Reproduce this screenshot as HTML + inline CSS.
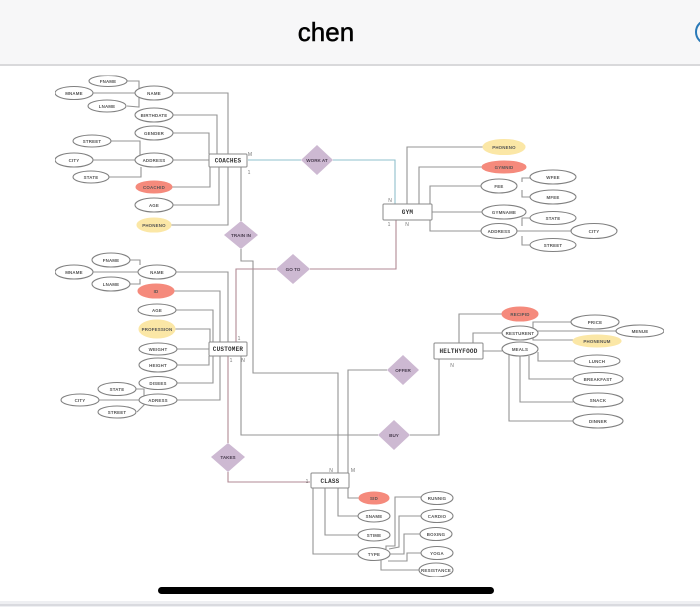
<!DOCTYPE html>
<html>
<head>
<meta charset="utf-8">
<style>
html,body{margin:0;padding:0;background:#fff;width:700px;height:607px;overflow:hidden}
svg{display:block}
.l polyline{fill:none;stroke:#949494;stroke-width:1.1}
.b polyline{fill:none;stroke:#8fc0cc;stroke-width:1.1}
.r polyline{fill:none;stroke:#b08a94;stroke-width:1.1}
.e ellipse{fill:#fff;stroke:#808080;stroke-width:1.1}
.e ellipse.red{fill:#f58a7c;stroke:#f58a7c}
.e ellipse.yel{fill:#fbe7a6;stroke:#fbe7a6}
.t text{font-family:"Liberation Sans",sans-serif;font-weight:bold;font-size:4.4px;fill:#555;text-anchor:middle;letter-spacing:.2px}
.box rect{fill:#fff;stroke:#8a8a8a;stroke-width:1}
.n text{font-family:"Liberation Mono",monospace;font-weight:bold;font-size:6px;fill:#333;text-anchor:middle;letter-spacing:.2px}
.d polygon{fill:#cdb9d2}
.d text{font-family:"Liberation Sans",sans-serif;font-weight:bold;font-size:4.6px;fill:#4a3d50;text-anchor:middle}
.c text{font-family:"Liberation Sans",sans-serif;font-size:5px;fill:#777;text-anchor:middle}
</style>
</head>
<body>
<svg width="700" height="607" viewBox="0 0 700 607" xmlns="http://www.w3.org/2000/svg">
<defs><filter id="s" x="0" y="0" width="100%" height="100%"><feGaussianBlur stdDeviation="0.35"/></filter></defs>
<rect x="0" y="0" width="700" height="64" fill="#f7f7f8"/>
<rect x="0" y="64" width="700" height="2" fill="#d9d9db"/>
<text x="326" y="41" font-family="'Liberation Sans',sans-serif" font-size="26" fill="#000" stroke="#000" stroke-width=".5" text-anchor="middle">chen</text>
<circle cx="708" cy="32" r="12" fill="none" stroke="#2a7ab8" stroke-width="2"/>

<g filter="url(#s)">
<g class="l">
<polyline points="173,93 228,93 228,154"/>
<polyline points="173,115 217,115 217,154"/>
<polyline points="173,133 209,133 209,154"/>
<polyline points="173,160 209,160"/>
<polyline points="172,187 210,187 210,167"/>
<polyline points="173,205 219,205 219,167"/>
<polyline points="171,225 228,225 228,167"/>
<polyline points="241,167 241,221"/>
<polyline points="127,81 139,81 139,107 127,106"/>
<polyline points="93,93 135,93"/>
<polyline points="111,141 140,141 140,155"/>
<polyline points="93,160 135,160"/>
<polyline points="109,177 141,177 141,167"/>
<polyline points="241,249 241,261 253,261 253,373 338,373 338,473"/>
<polyline points="407,204 407,147 483,147"/>
<polyline points="419,204 419,167 482,167"/>
<polyline points="430,204 430,186 481,186"/>
<polyline points="432,212 482,212"/>
<polyline points="430,220 430,231 483,231"/>
<polyline points="522,182 522,178 530,178"/>
<polyline points="522,190 522,197 530,197"/>
<polyline points="522,226 522,218 530,218"/>
<polyline points="517,231 571,231"/>
<polyline points="522,236 522,245 530,245"/>
<polyline points="176,272 228,272 228,342"/>
<polyline points="174,291 220,291 220,342"/>
<polyline points="176,310 213,310 213,342"/>
<polyline points="175,329 210,329 210,342"/>
<polyline points="177,349 209,349"/>
<polyline points="177,365 209,365 209,356"/>
<polyline points="177,383 213,383 213,356"/>
<polyline points="177,400 220,400 220,356"/>
<polyline points="130,260 140,260 140,265"/>
<polyline points="130,284 140,284 140,279"/>
<polyline points="93,272 138,272"/>
<polyline points="136,389 144,389 144,405 137,412"/>
<polyline points="99,400 139,400"/>
<polyline points="241,356 241,435 378,435"/>
<polyline points="410,435 439,435 439,359"/>
<polyline points="387,370 348,370 348,473"/>
<polyline points="459,343 459,314 502,314"/>
<polyline points="473,343 473,333 502,333"/>
<polyline points="483,351 502,351"/>
<polyline points="533,328 533,322 571,322"/>
<polyline points="538,331 616,331"/>
<polyline points="533,338 533,340 573,340"/>
<polyline points="538,352 538,361 574,361"/>
<polyline points="529,356 529,379 573,379"/>
<polyline points="520,356 520,402 573,402"/>
<polyline points="509,355 509,421 573,421"/>
<polyline points="348,488 348,498 359,498"/>
<polyline points="338,488 338,516 358,516"/>
<polyline points="325,488 325,535 358,535"/>
<polyline points="313,488 313,554 358,554"/>
<polyline points="386,549 386,546 395,546 395,497 421,497"/>
<polyline points="389,549 399,547 399,516 421,516"/>
<polyline points="390,554 404,554 404,534 420,534"/>
<polyline points="388,561 407,561 407,553 421,553"/>
<polyline points="381,560 381,570 419,570"/>
</g>
<g class="b">
<polyline points="248,160 301,160"/>
<polyline points="333,160 395,160 395,204"/>
</g>
<g class="r">
<polyline points="276,269 236,269 236,342"/>
<polyline points="310,269 396,269 396,220"/>
<polyline points="228,356 228,443"/>
<polyline points="228,472 228,482 310,482"/>
</g>

<g class="e">
<ellipse cx="108" cy="81" rx="19" ry="5.5"/>
<ellipse cx="74" cy="93" rx="19" ry="6.5"/>
<ellipse cx="107" cy="106" rx="19" ry="6"/>
<ellipse cx="154" cy="93" rx="19" ry="7"/>
<ellipse cx="154" cy="115" rx="19" ry="7"/>
<ellipse cx="154" cy="133" rx="19" ry="7"/>
<ellipse cx="92" cy="141" rx="19" ry="6"/>
<ellipse cx="74" cy="160" rx="19" ry="7"/>
<ellipse cx="154" cy="160" rx="19" ry="7"/>
<ellipse cx="91" cy="177" rx="18" ry="6"/>
<ellipse class="red" cx="154" cy="187" rx="18" ry="6"/>
<ellipse cx="154" cy="205" rx="19" ry="7"/>
<ellipse class="yel" cx="154" cy="225" rx="17" ry="7"/>

<ellipse class="yel" cx="504" cy="147" rx="21" ry="7.5"/>
<ellipse class="red" cx="504" cy="167" rx="22" ry="6"/>
<ellipse cx="499" cy="186" rx="18" ry="7"/>
<ellipse cx="504" cy="212" rx="22" ry="7"/>
<ellipse cx="499" cy="231" rx="18" ry="7.5"/>
<ellipse cx="553" cy="177" rx="23" ry="7"/>
<ellipse cx="553" cy="197" rx="23" ry="7"/>
<ellipse cx="553" cy="218" rx="23" ry="6.5"/>
<ellipse cx="594" cy="231" rx="23" ry="7.5"/>
<ellipse cx="553" cy="245" rx="23" ry="6.5"/>

<ellipse cx="111" cy="260" rx="19" ry="7"/>
<ellipse cx="74" cy="272" rx="19" ry="7"/>
<ellipse cx="111" cy="284" rx="19" ry="7"/>
<ellipse cx="157" cy="272" rx="19" ry="7"/>
<ellipse class="red" cx="156" cy="291" rx="18" ry="7"/>
<ellipse cx="157" cy="310" rx="19" ry="6"/>
<ellipse class="yel" cx="157" cy="329" rx="18" ry="9"/>
<ellipse cx="158" cy="349" rx="19" ry="6"/>
<ellipse cx="158" cy="365" rx="19" ry="7"/>
<ellipse cx="158" cy="383" rx="19" ry="6.5"/>
<ellipse cx="117" cy="389" rx="19" ry="6.5"/>
<ellipse cx="158" cy="400" rx="19" ry="6"/>
<ellipse cx="80" cy="400" rx="19" ry="6"/>
<ellipse cx="117" cy="412" rx="19" ry="6"/>

<ellipse class="red" cx="520" cy="314" rx="18" ry="7"/>
<ellipse cx="520" cy="333" rx="18" ry="7"/>
<ellipse cx="520" cy="349" rx="18" ry="7"/>
<ellipse cx="595" cy="322" rx="24" ry="7"/>
<ellipse cx="640" cy="331" rx="24" ry="6"/>
<ellipse class="yel" cx="597" cy="341" rx="24" ry="6"/>
<ellipse cx="597" cy="361" rx="23" ry="6"/>
<ellipse cx="598" cy="379" rx="25" ry="6.5"/>
<ellipse cx="598" cy="400" rx="25" ry="7"/>
<ellipse cx="598" cy="421" rx="25" ry="7"/>

<ellipse class="red" cx="374" cy="498" rx="15" ry="6"/>
<ellipse cx="374" cy="516" rx="16" ry="6"/>
<ellipse cx="374" cy="535" rx="16" ry="6"/>
<ellipse cx="374" cy="554" rx="16" ry="6.5"/>
<ellipse cx="437" cy="498" rx="16" ry="6.5"/>
<ellipse cx="437" cy="516" rx="16" ry="6.5"/>
<ellipse cx="436" cy="534" rx="16" ry="6.5"/>
<ellipse cx="437" cy="553" rx="16" ry="6.5"/>
<ellipse cx="436" cy="570" rx="17" ry="7"/>
</g>

<g class="t">
<text x="108" y="83">FNAME</text>
<text x="74" y="95">MNAME</text>
<text x="107" y="108">LNAME</text>
<text x="154" y="95">NAME</text>
<text x="154" y="117">BIRTHDATE</text>
<text x="154" y="135">GENDER</text>
<text x="92" y="143">STREET</text>
<text x="74" y="162">CITY</text>
<text x="154" y="162">ADDRESS</text>
<text x="91" y="179">STATE</text>
<text x="154" y="189">COACHID</text>
<text x="154" y="207">AGE</text>
<text x="154" y="227">PHONENO</text>

<text x="504" y="149">PHONENO</text>
<text x="504" y="169">GYMNID</text>
<text x="499" y="188">FEE</text>
<text x="504" y="214">GYMNAME</text>
<text x="499" y="233">ADDRESS</text>
<text x="553" y="179">WFEE</text>
<text x="553" y="199">MFEE</text>
<text x="553" y="220">STATE</text>
<text x="594" y="233">CITY</text>
<text x="553" y="247">STREET</text>

<text x="111" y="262">FNAME</text>
<text x="74" y="274">MNAME</text>
<text x="111" y="286">LNAME</text>
<text x="157" y="274">NAME</text>
<text x="156" y="293">ID</text>
<text x="157" y="312">AGE</text>
<text x="157" y="331">PROFESSION</text>
<text x="158" y="351">WEIGHT</text>
<text x="158" y="367">HEIGHT</text>
<text x="158" y="385">DISEES</text>
<text x="117" y="391">STATE</text>
<text x="158" y="402">ADRESS</text>
<text x="80" y="402">CITY</text>
<text x="117" y="414">STREET</text>

<text x="520" y="316">RECIPID</text>
<text x="520" y="335">RESTURENT</text>
<text x="520" y="351">MEALS</text>
<text x="595" y="324">PRICE</text>
<text x="640" y="333">MENUE</text>
<text x="597" y="343">PHONENUM</text>
<text x="597" y="363">LUNCH</text>
<text x="598" y="381">BREAKFAST</text>
<text x="598" y="402">SNACK</text>
<text x="598" y="423">DINNER</text>

<text x="374" y="500">SID</text>
<text x="374" y="518">SNAME</text>
<text x="374" y="537">STIME</text>
<text x="374" y="556">TYPE</text>
<text x="437" y="500">RUNNIG</text>
<text x="437" y="518">CARDIO</text>
<text x="436" y="536">BOXING</text>
<text x="437" y="555">YOGA</text>
<text x="436" y="572">RESISTANCE</text>
</g>

<g class="box">
<rect x="209" y="154" width="38" height="13" rx="1"/>
<rect x="383" y="204" width="49" height="16" rx="1"/>
<rect x="209" y="342" width="38" height="14" rx="1"/>
<rect x="434" y="343" width="49" height="16" rx="1"/>
<rect x="311" y="473" width="38" height="15" rx="1"/>
</g>
<g class="n">
<text x="228" y="162.500">COACHES</text>
<text x="407.500" y="214">GYM</text>
<text x="228" y="351">CUSTOMER</text>
<text x="458.500" y="353">HELTHYFOOD</text>
<text x="330" y="483">CLASS</text>
</g>

<g class="d">
<polygon points="317,145 333,160 317,175 301,160"/>
<text x="317" y="162">WORK AT</text>
<polygon points="241,221 258,235 241,249 224,235"/>
<text x="241" y="237">TRAIN IN</text>
<polygon points="293,254 310,269 293,284 276,269"/>
<text x="293" y="271">GO TO</text>
<polygon points="403,355 419,370 403,385 387,370"/>
<text x="403" y="372">OFFER</text>
<polygon points="394,420 410,435 394,450 378,435"/>
<text x="394" y="437">BUY</text>
<polygon points="228,443 245,457 228,472 211,457"/>
<text x="228" y="459">TAKES</text>
</g>

<g class="c">
<text x="250" y="156" fill="#8fc0cc">M</text>
<text x="249" y="174">1</text>
<text x="390" y="202">N</text>
<text x="389" y="226">1</text>
<text x="407" y="226">N</text>
<text x="239" y="340">1</text>
<text x="231" y="362">1</text>
<text x="243" y="362">N</text>
<text x="452" y="367">N</text>
<text x="331" y="472">N</text>
<text x="353" y="472">M</text>
<text x="307" y="483">1</text>
</g>
</g>

<rect x="158" y="587" width="336" height="7" rx="3.500" fill="#000"/>
<rect x="0" y="601" width="700" height="6" fill="#eeeff2"/>
<rect x="0" y="604.500" width="700" height="1" fill="#c4c6cc"/>
</svg>
</body>
</html>
